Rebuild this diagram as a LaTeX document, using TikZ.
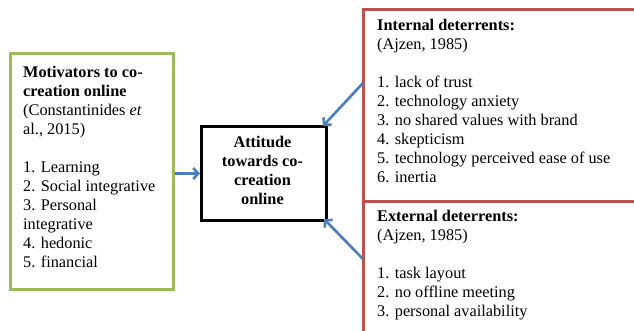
\documentclass[tikz,border=0pt]{standalone}
\usepackage{fontspec}
\setmainfont{Liberation Serif}
\usetikzlibrary{arrows.meta,calc}
\definecolor{boxgreen}{RGB}{155,187,89}
\definecolor{boxred}{RGB}{192,80,77}
\definecolor{arrowblue}{RGB}{74,126,187}
\tikzset{
  frame/.style={draw, line width=3pt, inner sep=0pt, anchor=north west},
  greenbox/.style={frame, draw=boxgreen},
  redbox/.style={frame, draw=boxred},
  blackbox/.style={frame, draw=black},
  txt/.style={inner sep=0pt, anchor=north west, align=left, font=\fontsize{16.3}{19}\selectfont},
  ctxt/.style={inner sep=0pt, align=center, font=\fontsize{16.3}{19}\selectfont\bfseries},
  flow/.style={draw=arrowblue, line width=2.6pt, -{Straight Barb[length=5pt,width=11pt]}}
}
\newcommand{\fl}{\rule{0pt}{12pt}}
\begin{document}
\begin{tikzpicture}[x=1pt,y=-1pt]
\useasboundingbox (0,0) rectangle (634,331);
\clip (0,0) rectangle (634,331);
\fill[white] (0,0) rectangle (634,331);
% boxes
\node[greenbox, minimum width=163pt, minimum height=236pt] (mot) at (9,52) {};
\node[blackbox, minimum width=125pt, minimum height=94pt] (att) at (200,125) {};
\node[redbox, minimum width=290pt, minimum height=192pt] (int) at (362,8) {};
\node[redbox, minimum width=290pt, minimum height=150pt] (ext) at (362,200) {};
% texts
\node[txt] (motT) at (23,65.5) {\fl\textbf{Motivators to co-}\\\textbf{creation online}\\(Constantinides \textit{et}\\al., 2015)\\[19pt]1. Learning\\2. Social integrative\\3. Personal\\integrative\\4. hedonic\\5. financial};
\node[ctxt] (attT) at (262.5,170.5) {Attitude\\towards co-\\creation\\online};
\node[txt] (intT) at (377,18.5) {\fl\textbf{Internal deterrents:}\\(Ajzen, 1985)\\[19pt]1. lack of trust\\2. technology anxiety\\3. no shared values with brand\\4. skepticism\\5. technology perceived ease of use\\6. inertia};
\node[txt] (extT) at (377,209.5) {\fl\textbf{External deterrents:}\\(Ajzen, 1985)\\[19pt]1. task layout\\2. no offline meeting\\3. personal availability};
% connectors
\coordinate (a1) at (363,83);
\coordinate (a2) at (363,259);
\draw[flow] (att.west -| mot.east) -- (att.west);
\draw[flow] (a1) -- ($(att.north east)+(-5,1)$);
\draw[flow] (a2) -- ($(att.south east)+(-4,-3)$);
\end{tikzpicture}
\end{document}
